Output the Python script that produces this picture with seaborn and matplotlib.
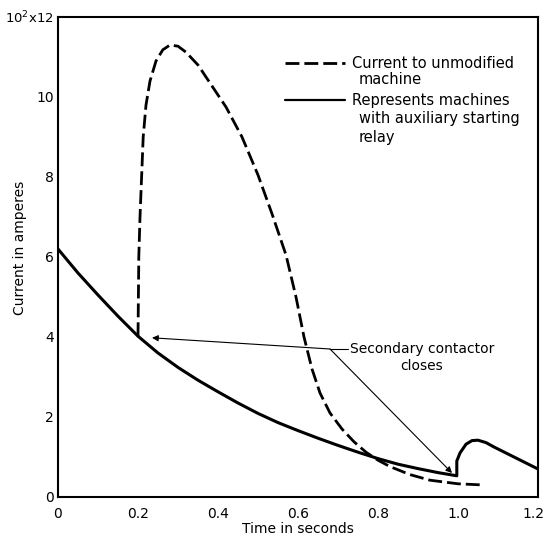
import pandas as pd
import matplotlib
matplotlib.use("Agg")
import matplotlib.pyplot as plt
import matplotlib.transforms as mtransforms
import seaborn as sb

# Relay machine (solid)
solid_t = [0.0, 0.05, 0.1, 0.15, 0.2, 0.25, 0.3, 0.35, 0.4, 0.45, 0.5,
           0.55, 0.6, 0.65, 0.7, 0.75, 0.8, 0.85, 0.9, 0.95, 0.997,
           0.997, 1.005, 1.02, 1.035, 1.05, 1.07, 1.09, 1.12, 1.15, 1.18, 1.2]
solid_i = [6.2, 5.6, 5.05, 4.52, 4.02, 3.6, 3.24, 2.92, 2.63, 2.35, 2.09,
           1.86, 1.66, 1.47, 1.29, 1.12, 0.96, 0.82, 0.71, 0.61, 0.53,
           0.9, 1.1, 1.32, 1.41, 1.42, 1.36, 1.25, 1.1, 0.95, 0.8, 0.7]

# Unmodified machine (dashed)
dash_t = [0.2, 0.201, 0.202, 0.205, 0.209, 0.213, 0.22, 0.23, 0.245, 0.262,
          0.28, 0.3, 0.32, 0.35, 0.37, 0.4, 0.42, 0.46, 0.5, 0.535, 0.57,
          0.595, 0.615, 0.635, 0.655, 0.68, 0.71, 0.74, 0.77, 0.8, 0.83,
          0.88, 0.93, 1.0, 1.065]
dash_i = [4.02, 5.0, 6.0, 7.0, 8.0, 9.0, 9.8, 10.4, 10.9, 11.18,
          11.3, 11.27, 11.12, 10.8, 10.5, 10.05, 9.75, 9.0, 8.05, 7.08, 6.05,
          5.0, 4.0, 3.2, 2.6, 2.1, 1.7, 1.38, 1.12, 0.92, 0.76,
          0.56, 0.42, 0.33, 0.3]

x_ticks = [0, 0.2, 0.4, 0.6, 0.8, 1.0, 1.2]
x_labels = ["0", "0.2", "0.4", "0.6", "0.8", "1.0", "1.2"]
y_ticks = [0, 2, 4, 6, 8, 10, 12]
y_labels = ["0", "2", "4", "6", "8", "10", "10$^2$x12"]

sb.set_style("white")
plt.rcParams['font.family'] = ['DejaVu Sans']
plt.rcParams['text.color'] = 'black'
plt.rcParams['axes.labelcolor'] = 'black'

fig = plt.figure(figsize=(5.47, 5.37), dpi=100)
ax = fig.add_axes([58 / 547, 40 / 537, 480 / 547, 480 / 537])

solid_df = pd.DataFrame({'t': solid_t, 'i': solid_i})
dash_df = pd.DataFrame({'t': dash_t, 'i': dash_i})

sb.lineplot(data=solid_df, x='t', y='i', estimator=None, sort=False,
            color='black', lw=2.2, ax=ax)
sb.lineplot(data=dash_df, x='t', y='i', estimator=None, sort=False,
            color='black', lw=2.0, ax=ax)
ax.lines[-1].set_dashes((5, 1.8))

ax.set_xlim(0, 1.2)
ax.set_ylim(0, 12)
ax.set_xticks(x_ticks)
ax.set_xticklabels(x_labels)
ax.set_yticks(y_ticks)
ax.set_yticklabels(y_labels)
ax.tick_params(axis='both', direction='in', width=1.2, labelsize=10,
               colors='black')
ax.tick_params(axis='x', length=8, pad=7)
ax.tick_params(axis='y', length=9, pad=3)
ax.get_yticklabels()[-1].set_fontsize(9.5)
# keep the last x label inside the picture
last = ax.get_xticklabels()[-1]
last.set_transform(last.get_transform() +
                   mtransforms.ScaledTranslation(-5 / 100, 0, fig.dpi_scale_trans))
for sp in ax.spines.values():
    sp.set_linewidth(1.5)
    sp.set_color('black')

ax.set_xlabel('Time in seconds', fontsize=10, labelpad=1)
ax.set_ylabel('Current in amperes', fontsize=10)
ax.yaxis.set_label_coords(-0.065, 0.52)

# Legend drawn by hand, line samples beside the first text line
ax.plot([0.473, 0.598], [0.904, 0.904], transform=ax.transAxes,
        color='black', lw=2.0, dashes=(5, 1.8))
ax.plot([0.473, 0.598], [0.827, 0.827], transform=ax.transAxes,
        color='black', lw=1.6)
leg_kw = dict(transform=ax.transAxes, fontsize=10.5, va='center', ha='left')
ax.text(0.6125, 0.904, 'Current to unmodified', **leg_kw)
ax.text(0.627, 0.869, 'machine', **leg_kw)
ax.text(0.6125, 0.827, 'Represents machines', **leg_kw)
ax.text(0.627, 0.7875, 'with auxiliary starting', **leg_kw)
ax.text(0.627, 0.748, 'relay', **leg_kw)

# Secondary contactor note
ax.text(0.91, 3.48, 'Secondary contactor\ncloses', fontsize=10,
        ha='center', va='center', multialignment='center', linespacing=1.25)
ax.plot([0.68, 0.725], [3.7, 3.7], color='black', lw=0.8)
arrow = dict(arrowstyle='-|>', lw=0.8, color='black', mutation_scale=9,
             shrinkA=0, shrinkB=0)
ax.annotate('', xy=(0.235, 3.98), xytext=(0.68, 3.7), arrowprops=arrow)
ax.annotate('', xy=(0.985, 0.6), xytext=(0.68, 3.7), arrowprops=arrow)

plt.savefig('out.png', dpi=100)
